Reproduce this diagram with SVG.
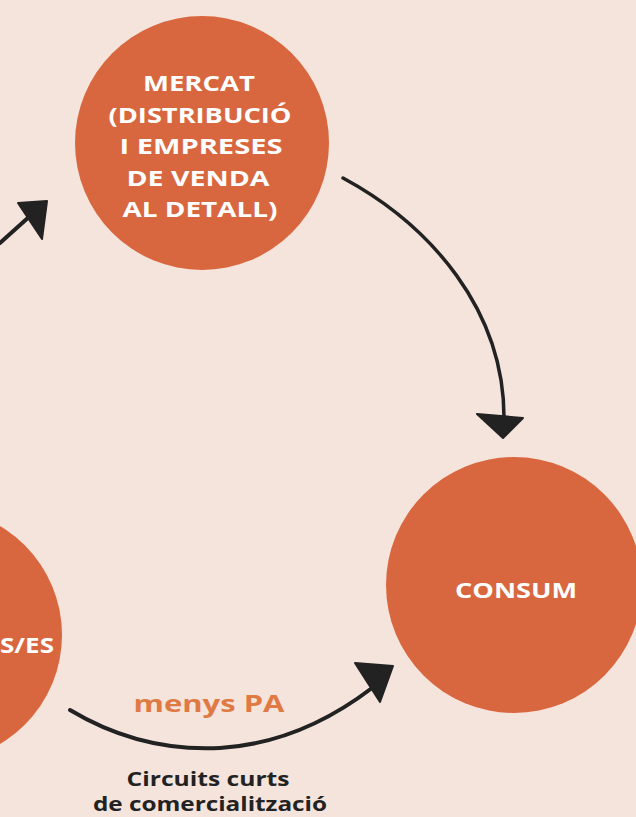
<svg xmlns="http://www.w3.org/2000/svg" width="636" height="817" viewBox="0 0 636 817">
<style>
.node{fill:#d8673f}
.nt{font-family:"Open Sans","Liberation Sans",sans-serif;font-weight:700;font-size:22px;fill:#ffffff;text-anchor:middle}
.line{fill:none;stroke:#222222;stroke-width:4;stroke-linecap:round}
.head{fill:#222222;stroke:#222222;stroke-width:2;stroke-linejoin:round}
.lbl{font-family:"Open Sans","Liberation Sans",sans-serif;font-weight:700;text-anchor:middle}
</style>
<rect width="636" height="817" fill="#f5e4dc"/>
<g id="mercat">
<circle class="node" cx="202" cy="143" r="127"/>
<text class="nt" x="199" y="91" textLength="112" lengthAdjust="spacingAndGlyphs">MERCAT</text>
<text class="nt" x="200" y="123" textLength="183" lengthAdjust="spacingAndGlyphs">(DISTRIBUCIÓ</text>
<text class="nt" x="201" y="154" textLength="163" lengthAdjust="spacingAndGlyphs">I EMPRESES</text>
<text class="nt" x="198" y="186" textLength="143" lengthAdjust="spacingAndGlyphs">DE VENDA</text>
<text class="nt" x="200" y="217" textLength="155" lengthAdjust="spacingAndGlyphs">AL DETALL)</text>
</g>
<g id="consum">
<circle class="node" cx="514" cy="585" r="128"/>
<text class="nt" x="516" y="598" textLength="122" lengthAdjust="spacingAndGlyphs">CONSUM</text>
</g>
<g id="productors">
<circle class="node" cx="-65" cy="635" r="127"/>
<text class="nt" x="27" y="653" textLength="54" lengthAdjust="spacingAndGlyphs">S/ES</text>
</g>
<g id="connectors">
<path class="line" d="M0 243 L30 216"/>
<polygon class="head" points="18,203 47,201 42,239"/>
<path class="line" d="M343 178 C430 225 505 310 504 420" style="stroke-width:3.5"/>
<polygon class="head" points="477,414 523,418 503,438"/>
<path class="line" d="M70 710 Q140 752 220 748 Q300 743 372 688"/>
<polygon class="head" points="355,663 393,666 380,702"/>
</g>
<g id="labels">
<text class="lbl" x="209" y="712" textLength="151" lengthAdjust="spacingAndGlyphs" style="font-size:24px;fill:#e07a45">menys PA</text>
<text class="lbl" x="208" y="786" textLength="163" lengthAdjust="spacingAndGlyphs" style="font-size:20px;fill:#222222">Circuits curts</text>
<text class="lbl" x="210" y="811" textLength="234" lengthAdjust="spacingAndGlyphs" style="font-size:20px;fill:#222222">de comercialització</text>
</g>
</svg>
